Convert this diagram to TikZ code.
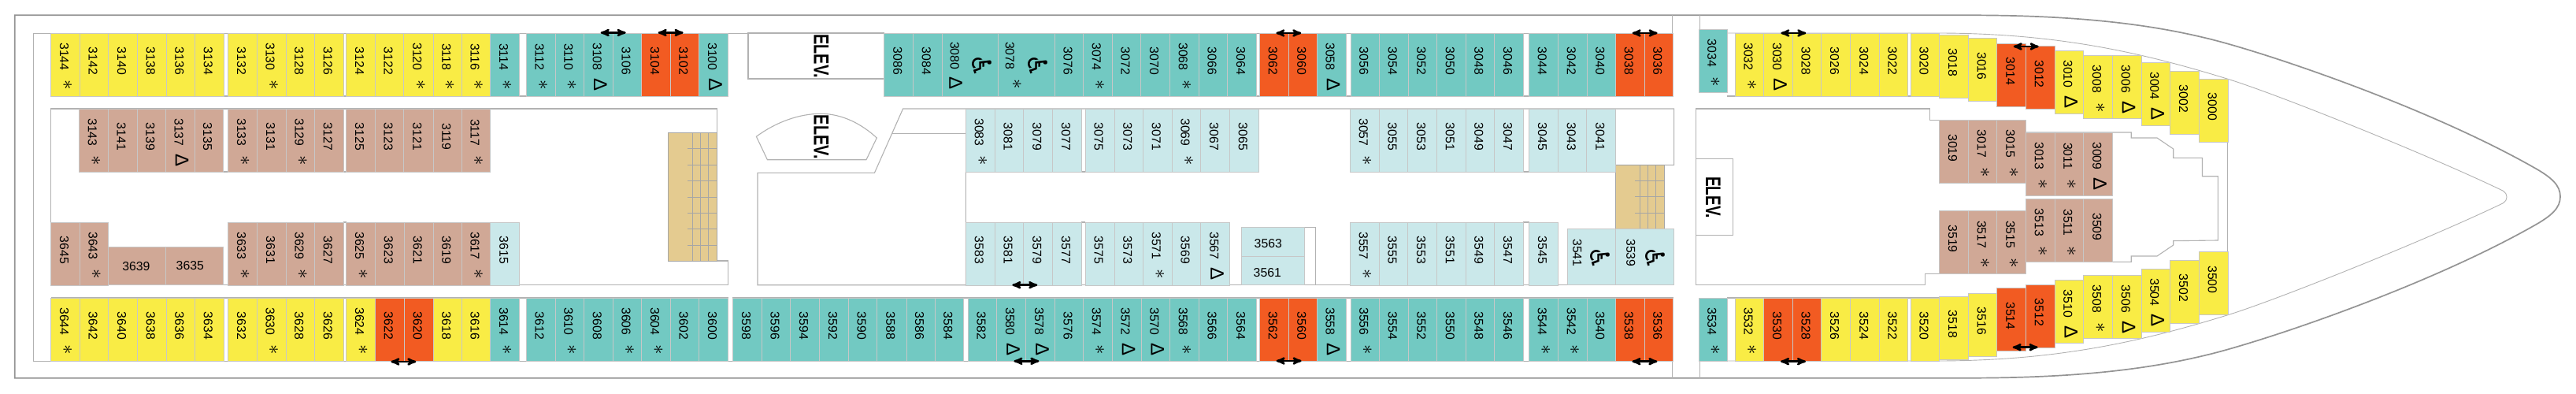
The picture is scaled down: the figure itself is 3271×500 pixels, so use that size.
\documentclass[tikz,border=0pt]{standalone}
\usepackage{fontspec}
\setmainfont{Liberation Sans}
\newfontfamily\symfont{DejaVu Sans}
\usetikzlibrary{arrows}
\definecolor{yellowcab}{HTML}{F9EC45}
\definecolor{tealcab}{HTML}{72C9C2}
\definecolor{orangecab}{HTML}{F25B22}
\definecolor{tancab}{HTML}{D0A896}
\definecolor{palecab}{HTML}{CAE8EA}
\definecolor{stairtan}{HTML}{E4CB90}
\tikzset{
    hull/.style={draw=black!42,line width=1.7pt},
    innerhull/.style={draw=black!30,line width=0.9pt},
    wall/.style={draw=black!30,line width=1.1pt},
    cabinbox/.style={draw=black!22,line width=0.7pt},
    cabinno/.style={rotate=-90,font=\fontsize{15.8}{16}\selectfont,inner sep=0pt},
    cabinflat/.style={font=\fontsize{15.8}{16}\selectfont,inner sep=0pt},
    cabinmark/.style={rotate=-90,font=\fontsize{24}{24}\selectfont,inner sep=0pt},
    wheelchair/.style={rotate=-90,font=\symfont\fontsize{34}{34}\selectfont,inner sep=0pt},
    elevlabel/.style={rotate=-90,font=\bfseries\fontsize{27}{27}\selectfont,inner sep=0pt},
    stair/.style={draw=black!35,line width=0.8pt},
    stairbox/.style={stair,fill=stairtan},
    resize/.style={<->,>=stealth',line width=2.6pt,black}
}
\def\markast{\fontsize{30}{30}\selectfont$\ast$}
\def\markdel{Δ}
\def\noflag{no}
\def\astflag{ast}
\newcommand{\cabin}[6]{%
  \draw[cabinbox,fill=#1] (#3,#5) rectangle (#4,{#5+80});
  \edef\flagname{#6}%
  \ifx\flagname\noflag
    \node[cabinno] (c#2) at ({(#3+#4)/2-1.5},{#5+35.5}) {#2};
  \else
    \node[cabinno] (c#2) at ({(#3+#4)/2-1.5},{#5+30}) {#2};
    \ifx\flagname\astflag
      \node[cabinmark] (m#2) at ({(#3+#4)/2+2.5},{#5+66}) {\markast};
    \else
      \node[cabinmark] (m#2) at ({(#3+#4)/2+2.5},{#5+66}) {\markdel};
    \fi
  \fi
}
\begin{document}
\begin{tikzpicture}[x=1pt,y=-1pt]
\useasboundingbox (0,0) rectangle (3271,500);
% hull
\draw[hull] (2500,19.3)--(18.7,19.3)--(18.7,479.7)--(2500,479.7) .. controls (2650,479.7) and (2740,466) .. (2808,449) .. controls (2880,431) and (3080,364) .. (3216,287.3) .. controls (3240,274) and (3251,264) .. (3251,249.5) .. controls (3251,235) and (3240,225) .. (3216,211.7) .. controls (3080,135) and (2880,68) .. (2808,50) .. controls (2740,33) and (2650,19.3) .. cycle;
\draw[innerhull] (2124.6,42)--(42.8,42)--(42.8,458)--(2124.6,458);
\draw[innerhull] (2193,42)--(2460,42) .. controls (2620,42) and (2730,70) .. (2828,100) .. controls (2890,119) and (3080,195) .. (3178,242) .. controls (3182,245) and (3183,247) .. (3183,250) .. controls (3183,253) and (3182,255) .. (3178,258) .. controls (3080,305) and (2890,381) .. (2828,400) .. controls (2730,430) and (2620,458) .. (2460,458)--(2193,458);
\draw[wall] (2123.5,19.3)--(2123.5,42);
\draw[wall] (2158.6,19.3)--(2158.6,38);
\draw[wall] (2123.5,458)--(2123.5,479.7);
\draw[wall] (2158.6,458)--(2158.6,479.7);
% corridor walls
\draw[wall] (64.5,122)--(924.6,122);
\draw[wall] (1122.8,122)--(2124.6,122);
\draw[wall] (2193,122)--(2462,122);
\draw[wall] (64.5,378)--(924.6,378);
\draw[wall] (930,378)--(2124.6,378);
\draw[wall] (2193,378)--(2462,378);
\draw[wall] (64.5,282)--(64.5,138)--(910.2,138)--(910.2,168.3);
\draw[wall] (910.2,331)--(924.3,331)--(924.3,361.7)--(64.5,361.7);
\draw[wall] (283,218)--(290,218);
\draw[wall] (436,218)--(440,218);
\draw[wall] (436,282)--(440,282);
\draw[wall] (1373,218)--(1378,218);
\draw[wall] (1373,282)--(1378,282);
\draw[wall] (1934,218)--(1942,218);
\draw[wall] (1934,282)--(1942,282);
\draw[wall] (1226.3,218)--(1226.3,361.7)--(962,361.7)--(962,219.3)--(1110.5,219.3)--(1146.6,138)--(2125.6,138)--(2125.6,209.3)--(2051.6,209.3);
\draw[wall] (1133.3,169.3)--(1226.3,169.3);
\draw[wall] (1226.3,361.7)--(1670.7,361.7)--(1670.7,288.3)--(1656.3,288.3);
\draw[wall] (1670.7,361.7)--(2125.6,361.7);
% forward block
\draw[wall] (2462.5,152.3)--(2450.2,152.3)--(2450.2,138)--(2153.5,138)--(2153.5,361.7)--(2444.6,361.7)--(2444.6,347.7)--(2462.5,347.7);
\draw[wall] (2572.7,168)--(2706.2,168)--(2706.2,175)--(2739,175)--(2759.7,189)--(2759.7,200.3)--(2796.5,200.3)--(2796.5,223.7)--(2816.3,223.7)--(2816.3,305)--(2759.7,305.7)--(2759.7,311)--(2739,325)--(2706.2,325)--(2706.2,332.3)--(2572.7,332.3);
\draw[wall] (2828.5,180)--(2828.5,319.3);
% elevators
\draw[wall,fill=white] (1122.8,42)--(950,42)--(950,100)--(1122.8,100);
\draw[wall] (974.4,202.7)--(960.4,173.3) .. controls (985,155) and (1015,144.3) .. (1042,144.3) .. controls (1070,144.3) and (1095,158) .. (1113.3,175)--(1100,202.7)--cycle;
\draw[wall] (2153.5,201.3)--(2200.2,201.3)--(2200.2,298.3)--(2153.5,298.3);
\node[elevlabel] (elevaft) at (1042.8,71.3) {\scalebox{0.74}[1]{ELEV.}};
\node[elevlabel] (elevmid) at (1042.8,173.8) {\scalebox{0.74}[1]{ELEV.}};
\node[elevlabel] (elevfwd) at (2175.4,250.7) {\scalebox{0.7}[1]{ELEV.}};
% stairs
\draw[stairbox] (848.5,168.3) rectangle (910.2,331);
\foreach \xs in {879.7,889.5,899.7}{\draw[stair] (\xs,168.3)--(\xs,331);}
\foreach \ys in {188.7,209.3,229.3,250,270.3,290.3,311}{\draw[stair] (873,\ys)--(910.2,\ys);}
\draw[stairbox] (2051.6,209.3) rectangle (2113.7,290.3);
\foreach \xs in {2082.5,2092.6,2102.8}{\draw[stair] (\xs,209.3)--(\xs,290.3);}
\foreach \ys in {229.3,249.7,270.1}{\draw[stair] (2076.2,\ys)--(2113.7,\ys);}
% outer cabins, aft side up
\foreach \num/\xa/\xb/\tint/\flag in {
3144/64.5/101.4/yellowcab/ast,3142/101.4/137.8/yellowcab/no,3140/137.8/174.3/yellowcab/no,3138/174.3/211.2/yellowcab/no,3136/211.2/247.6/yellowcab/no,3134/247.6/284.1/yellowcab/no,
3132/289.7/326.2/yellowcab/no,3130/326.2/363/yellowcab/ast,3128/363/399.5/yellowcab/no,3126/399.5/436/yellowcab/no,
3124/439.8/476.3/yellowcab/no,3122/476.3/512.8/yellowcab/no,3120/512.8/550/yellowcab/ast,3118/550/586.5/yellowcab/ast,3116/586.5/622.6/yellowcab/ast,3114/622.6/659.4/tealcab/ast,
3112/668.2/705/tealcab/ast,3110/705/741.5/tealcab/ast,3108/741.5/778.3/tealcab/del,3106/778.3/814.8/tealcab/no,3104/814.8/851.3/orangecab/no,3102/851.3/887.4/orangecab/no,3100/887.4/924.6/tealcab/del,
3086/1122.8/1159.6/tealcab/no,3084/1159.6/1196.1/tealcab/no,3076/1339.6/1375.3/tealcab/no,3074/1375.3/1412.2/tealcab/ast,3072/1412.2/1448.7/tealcab/no,3070/1448.7/1485.5/tealcab/no,3068/1485.5/1522.3/tealcab/ast,3066/1522.3/1558.8/tealcab/no,3064/1558.8/1595.3/tealcab/no,
3062/1599.5/1636.3/orangecab/no,3060/1636.3/1672.4/orangecab/no,3058/1672.4/1708.9/tealcab/del,
3056/1715.2/1751.4/tealcab/no,3054/1751.4/1788.2/tealcab/no,3052/1788.2/1824.3/tealcab/no,3050/1824.3/1861.2/tealcab/no,3048/1861.2/1897.6/tealcab/no,3046/1897.6/1934.5/tealcab/no,
3044/1941.5/1978.3/tealcab/no,3042/1978.3/2015.1/tealcab/no,3040/2015.1/2051.6/tealcab/no,3038/2051.6/2088.1/orangecab/no,3036/2088.1/2124.6/orangecab/no,
3032/2203.3/2239.8/yellowcab/ast,3030/2239.8/2276.3/yellowcab/del,3028/2276.3/2312.7/yellowcab/no,3026/2312.7/2349.6/yellowcab/no,3024/2349.6/2386.8/yellowcab/no,3022/2386.8/2422.5/yellowcab/no,3020/2426.7/2462.5/yellowcab/no}{\cabin{\tint}{\num}{\xa}{\xb}{42}{\flag}}
% outer cabins, aft side down
\foreach \num/\xa/\xb/\tint/\flag in {
3644/64.5/101.4/yellowcab/ast,3642/101.4/137.8/yellowcab/no,3640/137.8/174.3/yellowcab/no,3638/174.3/211.2/yellowcab/no,3636/211.2/247.6/yellowcab/no,3634/247.6/284.1/yellowcab/no,
3632/289.7/326.2/yellowcab/no,3630/326.2/363/yellowcab/ast,3628/363/399.5/yellowcab/no,3626/399.5/436/yellowcab/no,
3624/439.8/476.3/yellowcab/ast,3622/476.3/513.5/orangecab/no,3620/513.5/550/orangecab/no,3618/550/586.5/yellowcab/no,3616/586.5/622.6/yellowcab/no,3614/622.6/659.4/tealcab/ast,
3612/668.2/705/tealcab/no,3610/705/741.5/tealcab/ast,3608/741.5/778.3/tealcab/no,3606/778.3/814.8/tealcab/ast,3604/814.8/851.3/tealcab/ast,3602/851.3/887.8/tealcab/no,3600/887.8/924.3/tealcab/no,
3598/930.6/967.4/tealcab/no,3596/967.4/1003.5/tealcab/no,3594/1003.5/1040.7/tealcab/no,3592/1040.7/1077.5/tealcab/no,3590/1077.5/1113.7/tealcab/no,3588/1113.7/1150.9/tealcab/no,3586/1150.9/1187/tealcab/no,3584/1187/1223.5/tealcab/no,
3582/1229.4/1265.6/tealcab/no,3580/1265.6/1302.4/tealcab/del,3578/1302.4/1339.6/tealcab/del,3576/1339.6/1375.3/tealcab/no,3574/1375.3/1412.2/tealcab/ast,3572/1412.2/1449/tealcab/del,3570/1449/1485.5/tealcab/del,3568/1485.5/1522.3/tealcab/ast,3566/1522.3/1558.8/tealcab/no,3564/1558.8/1595.3/tealcab/no,
3562/1599.5/1636.3/orangecab/no,3560/1636.3/1672.4/orangecab/no,3558/1672.4/1708.9/tealcab/del,
3556/1715.2/1751.4/tealcab/ast,3554/1751.4/1788.2/tealcab/no,3552/1788.2/1824.3/tealcab/no,3550/1824.3/1861.2/tealcab/no,3548/1861.2/1897.6/tealcab/no,3546/1897.6/1934.5/tealcab/no,
3544/1941.5/1978.3/tealcab/ast,3542/1978.3/2015.1/tealcab/ast,3540/2015.1/2051.6/tealcab/no,3538/2051.6/2088.1/orangecab/no,3536/2088.1/2124.6/orangecab/no,
3534/2157/2193.5/tealcab/ast,3532/2203.3/2239.8/yellowcab/ast,3530/2239.8/2276.3/orangecab/no,3528/2276.3/2312.7/orangecab/no,3526/2312.7/2349.6/yellowcab/no,3524/2349.6/2386.8/yellowcab/no,3522/2386.8/2422.5/yellowcab/no,3520/2426.7/2462.5/yellowcab/no}{\cabin{\tint}{\num}{\xa}{\xb}{378}{\flag}}
% bow cabins follow the hull
\foreach \num/\xa/\xb/\ya/\tint/\flag in {
3034/2157/2193.5/37.3/tealcab/ast,3018/2462.5/2499.7/44/yellowcab/no,3016/2499.7/2535.8/48.3/yellowcab/no,3014/2535.8/2572.7/55/orangecab/no,3012/2572.7/2609.1/58.7/orangecab/no,3010/2609.1/2645.6/64/yellowcab/del,3008/2645.6/2682.5/70.3/yellowcab/ast,3006/2682.5/2718.9/70.3/yellowcab/del,3004/2718.9/2755.7/79/yellowcab/del,3002/2755.7/2792.6/90/yellowcab/no,3000/2792.6/2829/100/yellowcab/no,
3518/2462.5/2499.7/376/yellowcab/no,3516/2499.7/2535.8/372/yellowcab/no,3514/2535.8/2572.7/365.3/orangecab/no,3512/2572.7/2609.1/361/orangecab/no,3510/2609.1/2645.6/355.3/yellowcab/del,3508/2645.6/2682.5/349.3/yellowcab/ast,3506/2682.5/2718.9/349.3/yellowcab/del,3504/2718.9/2755.7/341/yellowcab/del,3502/2755.7/2792.6/330/yellowcab/no,3500/2792.6/2829/319.3/yellowcab/no,
3019/2462.5/2499.7/152.3/tancab/no,3017/2499.7/2535.8/152.3/tancab/ast,3015/2535.8/2572.7/152.3/tancab/ast,3013/2572.7/2609.1/168/tancab/ast,3011/2609.1/2645.6/168/tancab/ast,3009/2645.6/2682.8/168/tancab/del,
3519/2462.5/2499.7/267.7/tancab/no,3517/2499.7/2535.8/267.7/tancab/ast,3515/2535.8/2572.7/267.7/tancab/ast,3513/2572.7/2609.1/252.3/tancab/ast,3511/2609.1/2645.6/252.3/tancab/ast,3509/2645.6/2682.8/252.3/tancab/no}{\cabin{\tint}{\num}{\xa}{\xb}{\ya}{\flag}}
% inside cabins, upper
\foreach \num/\xa/\xb/\tint/\flag in {
3143/100.7/137.1/tancab/ast,3141/137.1/174/tancab/no,3139/174/210.4/tancab/no,3137/210.4/246.9/tancab/del,3135/246.9/283.4/tancab/no,
3133/289.7/326.6/tancab/ast,3131/326.6/363.4/tancab/no,3129/363.4/399.5/tancab/ast,3127/399.5/436/tancab/no,
3125/439.8/476.3/tancab/no,3123/476.3/512.8/tancab/no,3121/512.8/550/tancab/no,3119/550/586.5/tancab/no,3117/586.5/622.6/tancab/ast,
3083/1226.3/1263.5/palecab/ast,3081/1263.5/1299.6/palecab/no,3079/1299.6/1336.8/palecab/no,3077/1336.8/1373.2/palecab/no,
3075/1378.1/1415/palecab/no,3073/1415/1451.4/palecab/no,3071/1451.4/1488.3/palecab/no,3069/1488.3/1524.8/palecab/ast,3067/1524.8/1561.2/palecab/no,3065/1561.2/1598.4/palecab/no,
3057/1714.2/1751.4/palecab/ast,3055/1751.4/1787.8/palecab/no,3053/1787.8/1824.3/palecab/no,3051/1824.3/1861.2/palecab/no,3049/1861.2/1897.6/palecab/no,3047/1897.6/1934.5/palecab/no,
3045/1941.5/1978.7/palecab/no,3043/1978.7/2014.8/palecab/no,3041/2014.8/2051.6/palecab/no}{\cabin{\tint}{\num}{\xa}{\xb}{138}{\flag}}
% inside cabins, lower
\foreach \num/\xa/\xb/\tint/\flag in {
3645/64.5/101.4/tancab/no,3643/101.4/137.5/tancab/ast,
3633/289.7/326.6/tancab/ast,3631/326.6/363.4/tancab/no,3629/363.4/399.5/tancab/ast,3627/399.5/436/tancab/no,
3625/439.8/476.3/tancab/ast,3623/476.3/513.5/tancab/no,3621/513.5/550/tancab/no,3619/550/586.5/tancab/no,3617/586.5/622.6/tancab/ast,3615/622.6/659.8/palecab/no,
3583/1226.3/1263.5/palecab/no,3581/1263.5/1299.6/palecab/no,3579/1299.6/1336.8/palecab/no,3577/1336.8/1373.2/palecab/no,
3575/1378.1/1415/palecab/no,3573/1415/1451.4/palecab/no,3571/1451.4/1488.3/palecab/ast,3569/1488.3/1524.8/palecab/no,3567/1524.8/1561.6/palecab/del,
3557/1714.2/1751.4/palecab/ast,3555/1751.4/1787.8/palecab/no,3553/1787.8/1824.3/palecab/no,3551/1824.3/1861.2/palecab/no,3549/1861.2/1897.6/palecab/no,3547/1897.6/1934.5/palecab/no,
3545/1941.5/1978.7/palecab/no}{\cabin{\tint}{\num}{\xa}{\xb}{282}{\flag}}
% cabins of another shape
\draw[cabinbox,fill=tancab] (137.5,313.3) rectangle (210.4,361.7);
\draw[cabinbox,fill=tancab] (210.4,313.3) rectangle (283.1,361.7);
\node[cabinflat] (c3639) at (172.9,338.3) {3639};
\node[cabinflat] (c3635) at (241.3,336.7) {3635};
\draw[cabinbox,fill=palecab] (1576,288.3) rectangle (1656.3,325.3);
\draw[cabinbox,fill=palecab] (1576,325.3) rectangle (1656.3,361.7);
\node[cabinflat] (c3563) at (1610.3,309.3) {3563};
\node[cabinflat] (c3561) at (1609.3,345.7) {3561};
% wheelchair cabins
\draw[cabinbox,fill=tealcab] (1196.1,42) rectangle (1267.3,122);
\draw[cabinbox,fill=tealcab] (1267.3,42) rectangle (1339.6,122);
\node[cabinno] (c3080) at (1212.2,70.7) {3080};
\node[cabinmark] (m3080) at (1213.5,106) {\markdel};
\node[wheelchair] (w3080) at (1247,83.3) {♿};
\node[cabinno] (c3078) at (1282.4,70.7) {3078};
\node[cabinmark] (m3078) at (1291,107) {\markast};
\node[wheelchair] (w3078) at (1318,83.3) {♿};
\draw[cabinbox,fill=palecab] (1990.2,290.3) rectangle (2051.6,361.7);
\draw[cabinbox,fill=palecab] (2051.6,290.3) rectangle (2125.6,361.7);
\node[cabinno] (c3541) at (2002.9,321) {3541};
\node[wheelchair] (w3541) at (2031.6,328) {♿};
\node[cabinno] (c3539) at (2070.9,321) {3539};
\node[wheelchair] (w3539) at (2101.8,328) {♿};
% resize arrows
\foreach \xm/\ym in {778.7/41.5,851.6/41.5,1636.3/42,2088.6/42,2277.3/42,2572.7/59,512.4/459,1301.3/361.7,1303.4/458.3,1636.6/458,2088.4/458.7,2277/458.7,2571.6/440.7}{
  \coordinate (al) at ({\xm-16},\ym);
  \coordinate (ar) at ({\xm+16},\ym);
  \draw[resize] (al)--(ar);
}
\end{tikzpicture}
\end{document}
